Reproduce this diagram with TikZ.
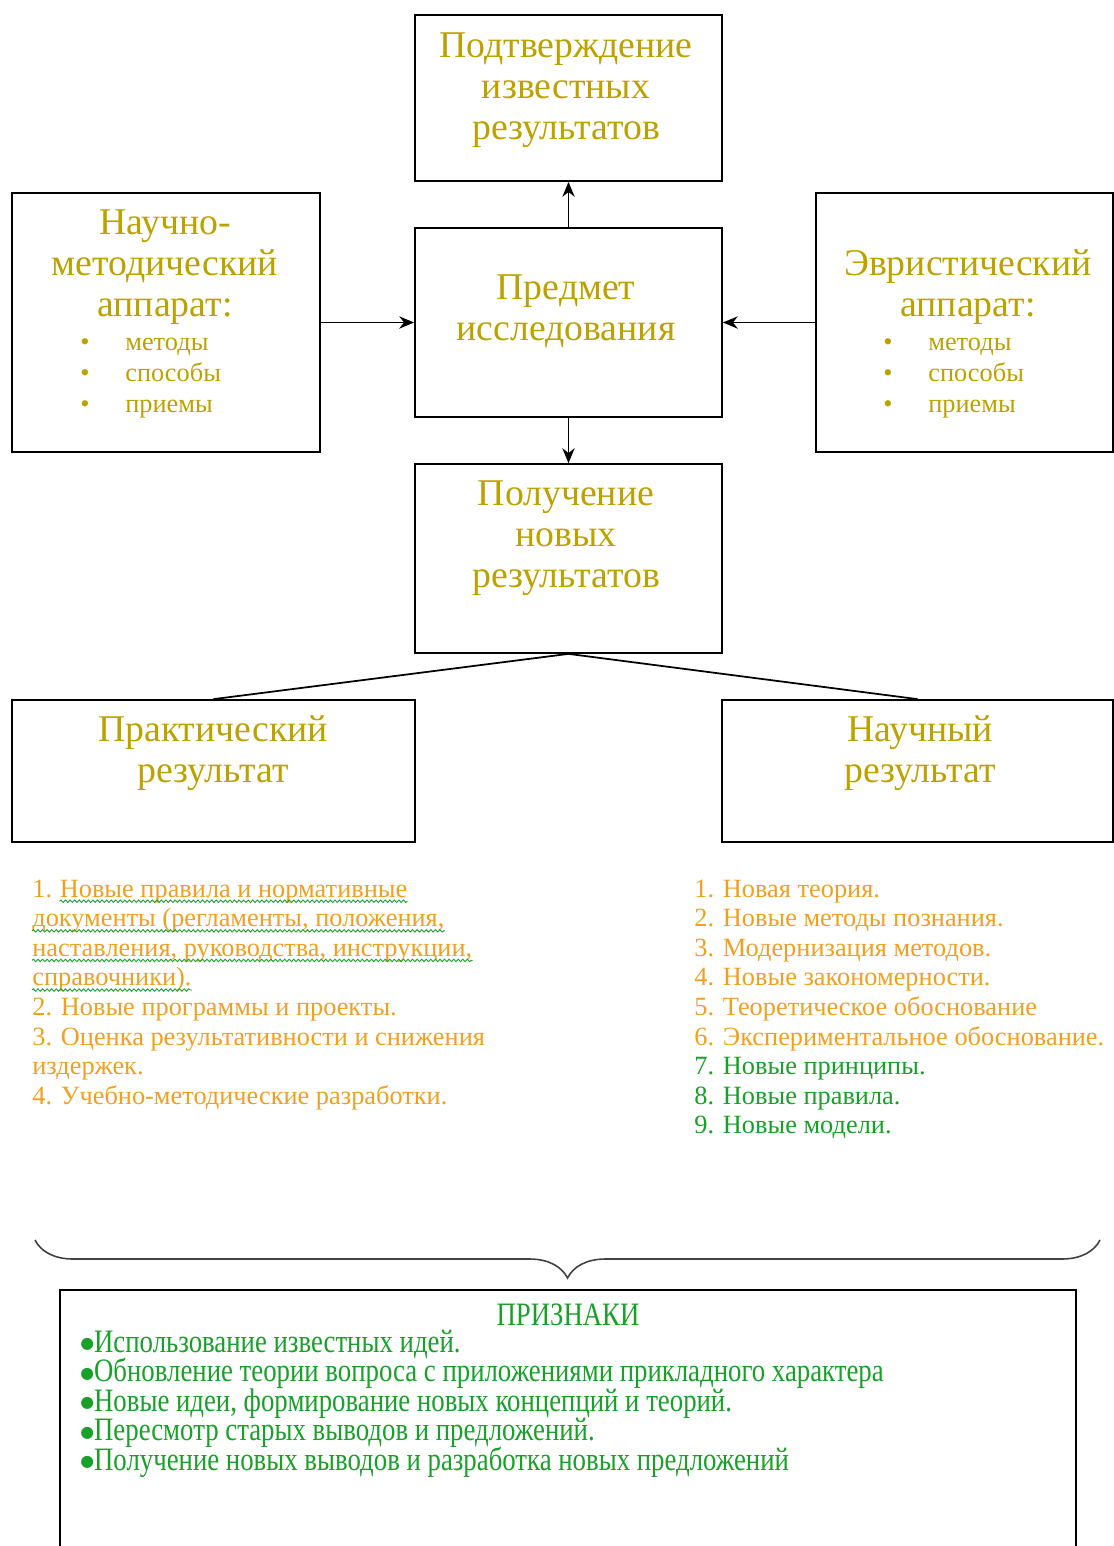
\documentclass[tikz,border=0pt]{standalone}
\usepackage{fontspec}
\setmainfont{Liberation Serif}
\newfontfamily\narrowfont{Liberation Serif}[FakeStretch=0.82]
\newfontfamily\dotfont{DejaVu Sans}
\usetikzlibrary{arrows.meta,decorations.pathreplacing,decorations.pathmorphing}
\definecolor{hdr}{RGB}{188,162,0}
\definecolor{org}{RGB}{240,160,32}
\definecolor{grn}{RGB}{24,160,40}
\newcommand{\bigdot}{\raisebox{2pt}{\dotfont\fontsize{9}{9}\selectfont ●}}
\tikzset{
  box/.style={draw, line width=1pt, inner sep=0pt},
  hd/.style={text=hdr, align=center, inner sep=0pt, font=\fontsize{21.5}{23.3}\selectfont},
  itm/.style={text=hdr, anchor=base west, inner sep=0pt, font=\fontsize{15}{17.6}\selectfont},
  lst/.style={anchor=base west, inner sep=0pt, font=\fontsize{15}{16.8}\selectfont},
  sgn/.style={text=grn, anchor=base west, inner sep=0pt, font=\narrowfont\fontsize{18.6}{20}\selectfont},
  wave/.style={grn, line width=0.5pt, decorate, decoration={snake, amplitude=0.7pt, segment length=2.6pt}}
}
\begin{document}
\begin{tikzpicture}[x=0.02cm, y=-0.02cm, >={Stealth[length=8.5pt,width=7pt]}]
    \useasboundingbox (0,0) rectangle (1114,1546);
    % boxes
    \node[box, minimum width=6.14cm, minimum height=3.32cm] (conf) at (568.5,98) {};
    \node[box, minimum width=6.16cm, minimum height=5.18cm] (sci) at (166,322.5) {};
    \node[box, minimum width=6.14cm, minimum height=3.78cm] (subj) at (568.5,322.5) {};
    \node[box, minimum width=5.94cm, minimum height=5.18cm] (heur) at (964.5,322.5) {};
    \node[box, minimum width=6.14cm, minimum height=3.78cm] (new) at (568.5,558.5) {};
    \node[box, minimum width=8.06cm, minimum height=2.84cm] (prac) at (213.5,771) {};
    \node[box, minimum width=7.82cm, minimum height=2.84cm] (scires) at (917.5,771) {};
    \node[box, minimum width=20.32cm, minimum height=5.4cm] (signs) at (568,1425) {};
    % headings
    \node[hd] (confT) at (566,90) {Подтверждение\\известных\\результатов};
    \node[hd] (sciT) at (165,267) {Научно-\\методический\\аппарат:};
    \node[hd] (subjT) at (566,311) {Предмет\\исследования};
    \node[hd] (heurT) at (968,287) {Эвристический\\аппарат:};
    \node[hd] (newT) at (566,538) {Получение\\новых\\результатов};
    \node[hd] (pracT) at (213,753) {Практический\\результат};
    \node[hd] (sciresT) at (920,753) {Научный\\результат};
    \foreach \t [count=\i] in {методы,способы,приемы} {
      \node[itm] (sb\i) at (80,350+31*\i-31) {\textbullet};
      \node[itm] (st\i) at (125,350+31*\i-31) {\t};
      \node[itm] (hb\i) at (883,350+31*\i-31) {\textbullet};
      \node[itm] (ht\i) at (928,350+31*\i-31) {\t};
    }
    % connectors
    \draw[->, line width=1pt] (subj) -- (conf);
    \draw[->, line width=1pt] (sci) -- (subj);
    \draw[->, line width=1pt] (heur) -- (subj);
    \draw[->, line width=1pt] (subj) -- (new);
    \draw[line width=1pt] (new.south) -- (prac.north);
    \draw[line width=1pt] (new.south) -- (scires.north);
    % practical list
    \node[lst, text=org] (p0) at (32,897) {1.};
    \node[lst, text=org] (p1) at ([xshift=4pt]p0.base east) {Новые правила и нормативные};
    \node[lst, text=org] (p2) at (32,926.6) {документы (регламенты, положения,};
    \node[lst, text=org] (p3) at (32,956.2) {наставления, руководства, инструкции,};
    \node[lst, text=org] (p4) at (32,985.8) {справочники).};
    \node[lst, text=org] (p5) at (32,1015.4) {2. Новые программы и проекты.};
    \node[lst, text=org] (p6) at (32,1045) {3. Оценка результативности и снижения};
    \node[lst, text=org] (p7) at (32,1074.6) {издержек.};
    \node[lst, text=org] (p8) at (32,1104.2) {4. Учебно-методические разработки.};
    \foreach \i in {1,...,4}
      \draw[wave] ([yshift=-2.4pt]p\i.base west) -- ([yshift=-2.4pt]p\i.base east);
    % scientific list
    \foreach \t [count=\i] in {1. Новая теория.,2. Новые методы познания.,3. Модернизация методов.,
        4. Новые закономерности.,5. Теоретическое обоснование,6. Экспериментальное обоснование.}
      \node[lst, text=org] (r\i) at (694,897+29.6*\i-29.6) {\t};
    \foreach \t [count=\i from 7] in {7. Новые принципы.,8. Новые правила.,9. Новые модели.}
      \node[lst, text=grn] (r\i) at (694,897+29.6*\i-29.6) {\t};
    % brace
    \draw[decorate, decoration={brace, amplitude=0.76cm, mirror}, line width=0.9pt, black!75]
      (35,1240) -- (1100,1240);
    % signs
    \node[text=grn, inner sep=0pt, font=\narrowfont\fontsize{18.6}{20}\selectfont] (signsT) at (568,1315) {ПРИЗНАКИ};
    \foreach \t [count=\i] in {Использование известных идей.,
        Обновление теории вопроса с приложениями прикладного характера,
        {Новые идеи, формирование новых концепций и теорий.},
        Пересмотр старых выводов и предложений.,
        Получение новых выводов и разработка новых предложений}
      \node[sgn] (s\i) at (80,1352+29.6*\i-29.6) {\bigdot\t};
\end{tikzpicture}
\end{document}
